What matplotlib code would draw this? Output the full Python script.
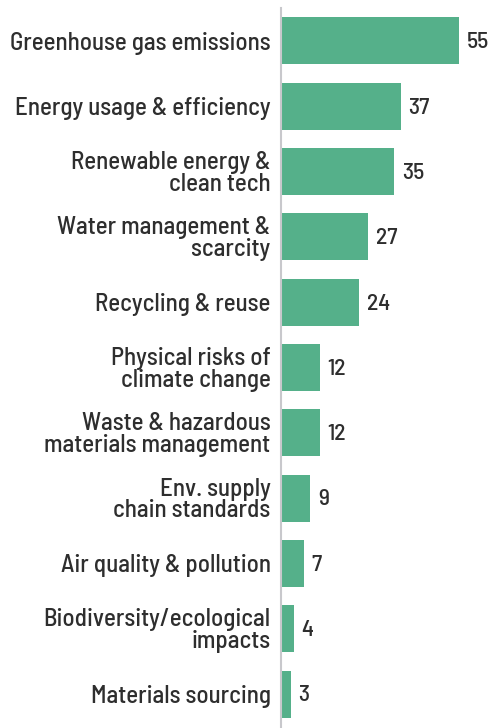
import matplotlib
matplotlib.use("Agg")
import matplotlib.pyplot as plt

categories = [
    "Greenhouse gas emissions",
    "Energy usage & efficiency",
    "Renewable energy &\nclean tech",
    "Water management &\nscarcity",
    "Recycling & reuse",
    "Physical risks of\nclimate change",
    "Waste & hazardous\nmaterials management",
    "Env. supply\nchain standards",
    "Air quality & pollution",
    "Biodiversity/ecological\nimpacts",
    "Materials sourcing",
]
values = [55, 37, 35, 27, 24, 12, 12, 9, 7, 4, 3]

bar_color = "#55b08a"
text_color = "#2e2e2e"
plt.rcParams["font.family"] = ["Barlow Semi Condensed", "Roboto Condensed", "DejaVu Sans"]

fig = plt.figure(figsize=(4.93, 7.28), dpi=100)
ax = fig.add_axes([0.570, 0.0, 0.427, 0.989])

y = list(range(len(categories)))
ax.barh(y, values, height=0.72, color=bar_color)
ax.set_xlim(0, 65)
ax.set_ylim(10.52, -0.505)

for yi, v in zip(y, values):
    ax.text(v + 2.4, yi + 0.02, str(v), va="center", ha="left", fontsize=17,
            fontweight="medium", color=text_color)

ax.set_yticks(y)
ax.set_yticklabels(categories, fontsize=18, fontweight="medium",
                   color=text_color, linespacing=0.92)
ax.tick_params(axis="y", length=0, pad=7.5)
ax.set_xticks([])
for s in ["top", "right", "bottom"]:
    ax.spines[s].set_visible(False)
ax.spines["left"].set_color("#c8c8cc")
ax.spines["left"].set_linewidth(1.5)

fig.savefig("out.png", dpi=100, facecolor="white")
